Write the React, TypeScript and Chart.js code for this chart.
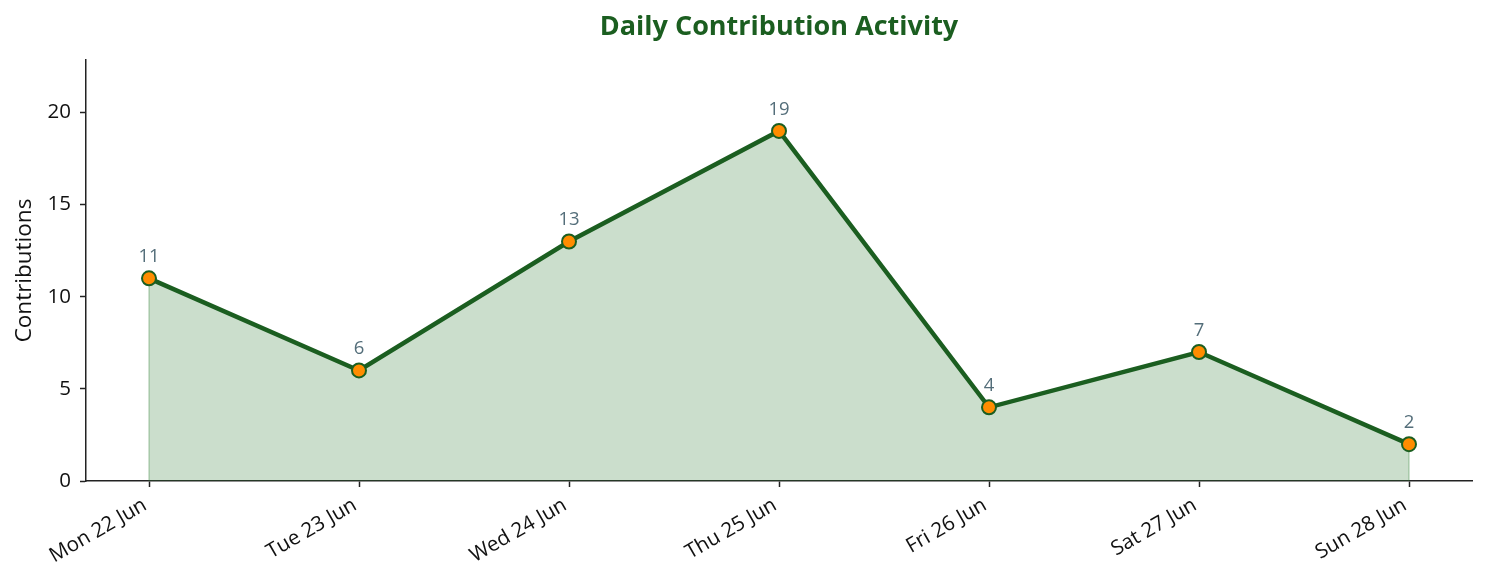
import React, { useEffect, useRef } from 'react';
import { Chart, registerables } from 'chart.js';

Chart.register(...registerables);

// Datos del gráfico
const dayLabels = ['Mon 22 Jun', 'Tue 23 Jun', 'Wed 24 Jun', 'Thu 25 Jun', 'Fri 26 Jun', 'Sat 27 Jun', 'Sun 28 Jun'];
const contributions = [11, 6, 13, 19, 4, 7, 2];
const yTicks = [0, 5, 10, 15, 20];

const FONT = "'Open Sans', 'Noto Sans', sans-serif";
const GREEN = '#1b5e20';

const App: React.FC = () => {
  const canvasRef = useRef<HTMLCanvasElement>(null);
  const chartInstance = useRef<Chart | null>(null);

  useEffect(() => {
    if (!canvasRef.current) return;
    const ctx = canvasRef.current.getContext('2d');
    if (!ctx) return;

    // Bordes del relleno, etiquetas encima de cada punto y título
    const labelsPlugin = {
      id: 'pointLabels',
      beforeDatasetsDraw(chart: any) {
        const c = chart.ctx;
        const meta = chart.getDatasetMeta(0);
        const base = chart.scales.y.getPixelForValue(0);
        c.save();
        c.strokeStyle = 'rgba(46, 125, 50, 0.3)';
        c.lineWidth = 1.5;
        [meta.data[0], meta.data[meta.data.length - 1]].forEach((pt: any) => {
          c.beginPath();
          c.moveTo(pt.x, pt.y);
          c.lineTo(pt.x, base);
          c.stroke();
        });
        c.restore();
      },
      afterDatasetsDraw(chart: any) {
        const c = chart.ctx;
        const meta = chart.getDatasetMeta(0);
        c.save();
        c.font = `18.5px ${FONT}`;
        c.fillStyle = '#546e7a';
        c.textAlign = 'center';
        c.textBaseline = 'alphabetic';
        meta.data.forEach((pt: any, i: number) => {
          c.fillText(String(contributions[i]), pt.x, pt.y - 16);
        });
        c.restore();
      },
      afterDraw(chart: any) {
        const c = chart.ctx;
        const { left, right } = chart.chartArea;
        c.save();
        c.font = `bold 27px ${FONT}`;
        c.fillStyle = GREEN;
        c.textAlign = 'center';
        c.textBaseline = 'middle';
        c.fillText('Daily Contribution Activity', (left + right) / 2, 27);
        c.restore();
      },
    };

    chartInstance.current = new Chart(ctx, {
      type: 'line',
      data: {
        datasets: [{
          label: 'Contributions',
          data: contributions.map((v, i) => ({ x: i, y: v })),
          borderColor: GREEN,
          backgroundColor: 'rgba(46, 125, 50, 0.25)',
          borderWidth: 4.5,
          fill: 'origin',
          tension: 0,
          pointBackgroundColor: '#ff8c00',
          pointBorderColor: GREEN,
          pointBorderWidth: 2,
          pointRadius: 7,
        }]
      },
      options: {
        animation: false,
        responsive: true,
        maintainAspectRatio: false,
        layout: { padding: { top: 60, right: 14, left: 0, bottom: 0 } },
        plugins: {
          legend: { display: false },
          title: { display: false },
          tooltip: { enabled: false },
        },
        scales: {
          x: {
            type: 'linear',
            min: -0.3,
            max: 6.3,
            afterFit: (s: any) => { s.height = 103; },
            afterBuildTicks: (s: any) => { s.ticks = dayLabels.map((_, i) => ({ value: i })); },
            ticks: {
              callback: (v: any) => dayLabels[v] ?? '',
              minRotation: 30,
              maxRotation: 30,
              autoSkip: false,
              padding: 6,
              labelOffset: -4,
              color: '#111',
              font: { family: FONT, size: 20.5 },
            },
            grid: { drawOnChartArea: false, drawTicks: true, tickLength: 6, tickWidth: 1.5, color: '#222' },
            border: { display: true, color: '#222', width: 1.5 },
          },
          y: {
            type: 'linear',
            min: 0,
            max: 22.85,
            afterFit: (s: any) => { s.width = 86; },
            afterBuildTicks: (s: any) => { s.ticks = yTicks.map(v => ({ value: v })); },
            ticks: {
              padding: 9,
              color: '#111',
              font: { family: FONT, size: 20.5 },
            },
            title: {
              display: true,
              text: 'Contributions',
              color: '#111',
              font: { family: FONT, size: 22.5 },
              padding: { top: 11, bottom: 0 },
            },
            grid: { drawOnChartArea: false, drawTicks: true, tickLength: 6, tickWidth: 1.5, color: '#222' },
            border: { display: true, color: '#222', width: 1.5 },
          }
        }
      },
      plugins: [labelsPlugin],
    });

    return () => {
      if (chartInstance.current) {
        chartInstance.current.destroy();
        chartInstance.current = null;
      }
    };
  }, []);

  return (
    <div style={{ position: 'absolute', left: 0, top: 0, width: 1486, height: 584, background: '#fff' }}>
      <canvas ref={canvasRef}></canvas>
    </div>
  );
};

export default App;
